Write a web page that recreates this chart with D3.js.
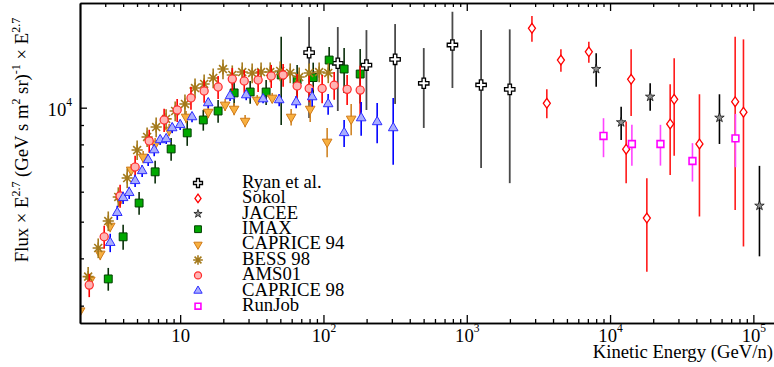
<!DOCTYPE html>
<html>
<head>
<meta charset="utf-8">
<script src="https://cdn.jsdelivr.net/npm/d3@7"></script>
<style>
  body { margin: 0; background: #fff; }
  svg { display: block; font-family: "Liberation Serif", "DejaVu Serif", serif; }
</style>
</head>
<body>
<svg id="chart" width="774" height="367"></svg>
<script>
// Proton flux (scaled by E^2.7) versus kinetic energy per nucleon, by experiment.

// Ryan et al.
const ryanEnergy = [79.4, 125.9, 199.5, 316.2, 501.2, 794.3, 1259, 1995];
const ryanFlux   = [13980, 13100, 12960, 13420, 11600, 14640, 11480, 11180];
const ryanLow    = [9390, 9800, 9860, 10230, 8840, 11270, 6930, 6320];
const ryanHigh   = [17350, 16330, 16030, 16630, 14370, 17920, 16030, 16100];

// Sokol
const sokolEnergy = [2850, 3620, 4540, 7110, 12950, 14030, 18060, 26270, 28020, 42050, 74650, 85290];
const sokolFlux   = [16200, 10270, 13360, 14050, 7770, 11880, 5110, 9060, 10520, 8020, 10370, 9730];
const sokolLow    = [14940, 9380, 12450, 13140, 6320, 9510, 3690, 6640, 7460, 5160, 5370, 4300];
const sokolHigh   = [17460, 11180, 14260, 14940, 9190, 14260, 6510, 11530, 13500, 10850, 15390, 15150];

// JACEE
const jaceeEnergy = [8000, 11950, 19050, 58000, 110300];
const jaceeFlux   = [12650, 9150, 10690, 9410, 5510];
const jaceeLow    = [11360, 8220, 9820, 8020, 4050];
const jaceeHigh   = [13920, 10060, 11600, 10850, 7020];

// IMAX
const imaxEnergy = [3.15, 4.00, 5.17, 6.69, 8.65, 11.2, 14.5, 18.4, 23.8, 30.8, 39.8, 50.7, 65.5, 84.8, 109.6, 139.4, 180.4];
const imaxFlux   = [3530, 4560, 5600, 6770, 7780, 8580, 9280, 9800, 10940, 11000, 11000, 12200, 11830, 12010, 13360, 12650, 12270];
const imaxErr    = [244, 347, 386, 467, 537, 652, 585, 676, 831, 759, 836, 3200, 1124, 1141, 1096, 1720, 2010];

// CAPRICE 94
const caprice94Energy = [2.005, 2.36, 2.77, 3.25, 3.81, 4.55, 5.52, 6.69, 8.38, 11.0, 15.7, 20.6, 23.8, 28.4, 34.5, 43.9, 59.5, 80.8, 106.1, 156.1];
const caprice94Flux   = [2910, 3510, 4110, 4870, 5710, 6850, 7410, 8020, 8730, 9450, 9740, 10170, 9920, 9220, 10480, 10610, 9450, 9920, 8120, 9340];
const caprice94Err    = [108, 130, 152, 180, 211, 253, 274, 297, 323, 350, 360, 376, 367, 341, 325, 329, 473, 754, 723, 887];

// BESS 98
const bessEnergy = [2.28, 2.68, 3.15, 3.70, 4.27, 5.01, 5.88, 6.80, 7.98, 9.23, 10.8, 12.7, 14.7, 17.0, 19.9, 23.1, 27.1, 31.8, 36.7, 42.5, 49.9, 58.6, 67.7, 79.5, 93.3, 108];
const bessFlux   = [3580, 4260, 5020, 5810, 6520, 7730, 8370, 8890, 9340, 9800, 10230, 11270, 11550, 11980, 12650, 12200, 12420, 12350, 12420, 12420, 12500, 12350, 12050, 12350, 12420, 12350];
const bessErr    = [215, 255, 300, 350, 390, 460, 500, 530, 560, 590, 610, 680, 690, 720, 760, 730, 750, 740, 750, 750, 750, 740, 720, 740, 750, 740];

// AMS01
const amsEnergy = [2.32, 2.95, 3.81, 4.85, 6.08, 7.73, 9.53, 11.9, 14.7, 18.4, 23.1, 28.0, 35.0, 43.2, 52.3, 65.5, 79.5, 97.9, 118.8, 146.3, 180.4];
const amsFlux   = [3400, 4560, 5850, 6970, 8170, 9280, 9860, 10610, 11070, 11340, 11900, 11760, 11830, 12120, 12200, 11410, 11240, 11240, 11460, 11180, 11130];
const amsErr    = [240, 320, 410, 490, 570, 650, 690, 740, 770, 790, 830, 820, 830, 850, 850, 860, 900, 960, 970, 1010, 1780];

// CAPRICE 98
const caprice98Energy = [3.25, 3.64, 4.00, 4.41, 4.85, 5.43, 5.98, 6.59, 7.25, 7.99, 8.80, 10.0, 12.1, 15.7, 22.3, 28.9, 37.9, 49.1, 64.5, 83.4, 107.8, 139.4, 183.3, 237, 306.6];
const caprice98Flux   = [4400, 5280, 5780, 5960, 6410, 6810, 7280, 7730, 8220, 8270, 8840, 9010, 9450, 10290, 10740, 10800, 10540, 10480, 10350, 10670, 10230, 8580, 9390, 9170, 8840];
const caprice98Err    = [246, 227, 214, 220, 237, 252, 269, 286, 255, 256, 274, 279, 293, 319, 333, 335, 264, 388, 383, 598, 644, 704, 958, 1119, 1768];

// RunJob
const runjobEnergy = [9000, 14200, 22470, 37580, 75010];
const runjobFlux   = [8420, 8020, 8020, 7230, 8300];
const runjobLow    = [7400, 7030, 7030, 6380, 6960];
const runjobHigh   = [9380, 9010, 9010, 8060, 9630];

// Axis tick values
const xMajorTicks = [10, 100, 1000, 10000, 100000];
const yMajorTicks = [10000];
const yMinorTicks = [3000, 4000, 5000, 6000, 7000, 8000, 9000];

// Custom marker shapes
const symbolAsterisk8 = {
  draw(ctx, size) {
    const r = Math.sqrt(size) / 2;
    for (let k = 0; k < 4; k++) {
      const a = k * Math.PI / 4;
      ctx.moveTo(r * Math.cos(a), r * Math.sin(a));
      ctx.lineTo(-r * Math.cos(a), -r * Math.sin(a));
    }
  }
};
const symbolTallDiamond = {
  draw(ctx, size) {
    const h = Math.sqrt(size) * 0.62, w = h * 0.72;
    ctx.moveTo(0, -h); ctx.lineTo(w, 0); ctx.lineTo(0, h); ctx.lineTo(-w, 0); ctx.closePath();
  }
};

function sym(E, F, err) {
  return { E, F, lo: F.map((v, i) => v - err[i]), hi: F.map((v, i) => v + err[i]) };
}

const series = [
  { name: "Ryan et al.", E: ryanEnergy, F: ryanFlux, lo: ryanLow, hi: ryanHigh,
    type: d3.symbolCross, size: 60, fill: "#fff", stroke: "#000", sw: 1.3, bar: "#4a4a4a", barW: 1.8 },
  { name: "Sokol", E: sokolEnergy, F: sokolFlux, lo: sokolLow, hi: sokolHigh,
    type: symbolTallDiamond, size: 62, fill: "#fff", stroke: "#ff0000", sw: 1.3, bar: "#ff1a1a", barW: 1.6 },
  { name: "JACEE", E: jaceeEnergy, F: jaceeFlux, lo: jaceeLow, hi: jaceeHigh,
    type: d3.symbolStar, size: 28, fill: "#8c8c8c", stroke: "#000", sw: 0.7, bar: "#000", barW: 1.6 },
  { name: "IMAX", ...sym(imaxEnergy, imaxFlux, imaxErr),
    type: d3.symbolSquare, size: 62, fill: "#00a800", stroke: "#004000", sw: 1.0, bar: "#0a2e0a", barW: 1.6 },
  { name: "CAPRICE 94", ...sym(caprice94Energy, caprice94Flux, caprice94Err),
    type: d3.symbolTriangle, size: 40, rotate: 180, fill: "#f8b040", stroke: "#d07a18", sw: 1.0, bar: "#d08526", barW: 1.6 },
  { name: "BESS 98", ...sym(bessEnergy, bessFlux, bessErr),
    type: symbolAsterisk8, size: 125, fill: "none", stroke: "#a47a1c", sw: 1.6, bar: "#a47a1c", barW: 1.6 },
  { name: "AMS01", ...sym(amsEnergy, amsFlux, amsErr),
    type: d3.symbolCircle, size: 52, fill: "#ffb4b4", stroke: "#ff2a2a", sw: 1.2, bar: "#ff0000", barW: 1.6 },
  { name: "CAPRICE 98", ...sym(caprice98Energy, caprice98Flux, caprice98Err),
    type: d3.symbolTriangle, size: 40, fill: "#a9adff", stroke: "#2e2eff", sw: 1.0, bar: "#0000ff", barW: 1.6 },
  { name: "RunJob", E: runjobEnergy, F: runjobFlux, lo: runjobLow, hi: runjobHigh,
    type: d3.symbolSquare, size: 46, fill: "#fff", stroke: "#ff00ff", sw: 1.6, bar: "#ff44ff", barW: 1.6 }
];

const svg = d3.select("#chart");
const plotLeft = 80, plotTop = 3, plotBottom = 323;

const x = d3.scaleLog().domain([2, 2e5]).range([plotLeft, 796.5]);
const y = d3.scaleLog().domain([2700, 18900]).range([plotBottom, plotTop]);

svg.append("defs").append("clipPath").attr("id", "plotclip")
  .append("rect").attr("x", plotLeft).attr("y", plotTop)
  .attr("width", 800 - plotLeft).attr("height", plotBottom - plotTop);

const plot = svg.append("g").attr("clip-path", "url(#plotclip)");

series.forEach(s => {
  const g = plot.append("g");
  const idx = d3.range(s.E.length);
  g.selectAll("line").data(idx).join("line")
    .attr("x1", i => x(s.E[i])).attr("x2", i => x(s.E[i]))
    .attr("y1", i => y(s.hi[i])).attr("y2", i => y(s.lo[i]))
    .attr("stroke", s.bar).attr("stroke-width", s.barW);
  g.selectAll("path").data(idx).join("path")
    .attr("d", d3.symbol().type(s.type).size(s.size))
    .attr("transform", i => `translate(${x(s.E[i])},${y(s.F[i])})` + (s.rotate ? ` rotate(${s.rotate})` : ""))
    .attr("fill", s.fill).attr("stroke", s.stroke).attr("stroke-width", s.sw);
});

// Minor tick positions: 2..9 × 10^n inside the domain
const xMinorTicks = [];
for (let p = 0; p <= 5; p++) for (let k = 2; k <= 9; k++) {
  const v = k * Math.pow(10, p);
  if (v > 2 && v < 2e5) xMinorTicks.push(v);
}

function powerLabel(sel, anchor) {
  sel.each(function (d) {
    const t = d3.select(this).text(null).attr("text-anchor", anchor);
    const e = Math.round(Math.log10(d));
    t.append("tspan").text("10");
    if (e !== 1) t.append("tspan").attr("font-size", "11.5px").attr("dy", -10).text(e);
  });
}

function styleAxis(g) {
  g.select(".domain").attr("stroke", "#000").attr("stroke-width", 1.7);
  g.selectAll(".tick line").attr("stroke", "#000").attr("stroke-width", 1.3);
  g.selectAll("text").attr("font-family", "Liberation Serif, serif").attr("font-size", "18.7px").attr("fill", "#000");
}

// bottom axis
svg.append("g").attr("transform", `translate(0,${plotBottom})`)
  .call(d3.axisBottom(x).tickValues(xMinorTicks).tickSizeInner(-4).tickSizeOuter(0).tickFormat(""))
  .call(styleAxis);
const bx = svg.append("g").attr("transform", `translate(0,${plotBottom})`)
  .call(d3.axisBottom(x).tickValues(xMajorTicks).tickSizeInner(-8).tickSizeOuter(0).tickPadding(6))
  .call(styleAxis);
bx.selectAll(".tick text").call(powerLabel, "middle");

// top axis
svg.append("g").attr("transform", `translate(0,${plotTop})`)
  .call(d3.axisTop(x).tickValues(xMinorTicks).tickSizeInner(-4).tickSizeOuter(0).tickFormat(""))
  .call(styleAxis);
svg.append("g").attr("transform", `translate(0,${plotTop})`)
  .call(d3.axisTop(x).tickValues(xMajorTicks).tickSizeInner(-8).tickSizeOuter(0).tickFormat(""))
  .call(styleAxis);

// left axis
svg.append("g").attr("transform", `translate(${plotLeft},0)`)
  .call(d3.axisLeft(y).tickValues(yMinorTicks).tickSizeInner(-4).tickSizeOuter(0).tickFormat(""))
  .call(styleAxis);
const ly = svg.append("g").attr("transform", `translate(${plotLeft},0)`)
  .call(d3.axisLeft(y).tickValues(yMajorTicks).tickSizeInner(-7).tickSizeOuter(0).tickPadding(8))
  .call(styleAxis);
ly.selectAll(".tick text").attr("dy", "0.42em").call(powerLabel, "end");

// axis titles
svg.append("text").attr("x", 773).attr("y", 358).attr("text-anchor", "end")
  .attr("font-size", "18.7px").text("Kinetic Energy (GeV/n)");

const yt = svg.append("text").attr("transform", "translate(28,140) rotate(-90)")
  .attr("text-anchor", "middle").attr("font-size", "18.7px");
const supSize = "12px";
yt.append("tspan").text("Flux \u00d7 E");
yt.append("tspan").attr("font-size", supSize).attr("dy", -8).text("2.7");
yt.append("tspan").attr("dy", 8).text(" (GeV s m");
yt.append("tspan").attr("font-size", supSize).attr("dy", -8).text("2");
yt.append("tspan").attr("dy", 8).text(" sr)");
yt.append("tspan").attr("font-size", supSize).attr("dy", -8).text("-1");
yt.append("tspan").attr("dy", 8).text(" \u00d7 E");
yt.append("tspan").attr("font-size", supSize).attr("dy", -8).text("2.7");

// legend
const legend = svg.append("g");
series.forEach((s, i) => {
  const cy = 183 + 15.4 * i;
  legend.append("path")
    .attr("d", d3.symbol().type(s.type).size(s.size * 0.75))
    .attr("transform", `translate(198,${cy})` + (s.rotate ? ` rotate(${s.rotate})` : ""))
    .attr("fill", s.fill).attr("stroke", s.stroke).attr("stroke-width", s.sw);
  legend.append("text").attr("x", 242).attr("y", cy + 4.8)
    .attr("font-size", "18.7px").text(s.name);
});
</script>
</body>
</html>
